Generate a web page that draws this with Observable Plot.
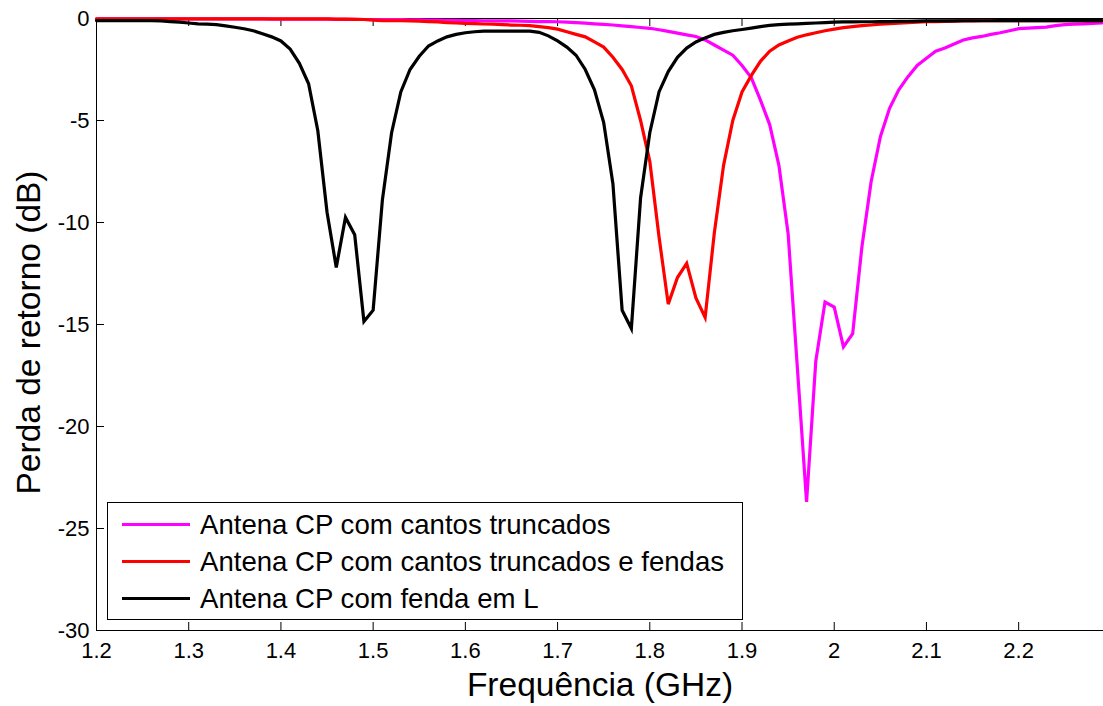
<!DOCTYPE html>
<html><head><meta charset="utf-8">
<script src="https://cdn.jsdelivr.net/npm/d3@7"></script>
<script src="https://cdn.jsdelivr.net/npm/@observablehq/plot@0.6"></script>
<style>
body{margin:0;background:#fff;}
#wrap{position:relative;width:1103px;height:706px;font-family:"Liberation Sans",Arial,sans-serif;overflow:hidden;}
#legend{position:absolute;left:107px;top:502px;width:634px;height:116px;border:1px solid #000;background:#fff;}
.row{position:absolute;left:14px;height:37px;display:flex;align-items:center;font-size:27.6px;color:#000;white-space:nowrap;}
.sw{width:68px;height:3px;margin-right:10px;}
</style></head>
<body><div id="wrap"><div id="legend"></div></div>
<script>
const freq = [
1.20,1.21,1.22,1.23,1.24,1.25,1.26,1.27,1.28,1.29,
1.30,1.31,1.32,1.33,1.34,1.35,1.36,1.37,1.38,1.39,
1.40,1.41,1.42,1.43,1.44,1.45,1.46,1.47,1.48,1.49,
1.50,1.51,1.52,1.53,1.54,1.55,1.56,1.57,1.58,1.59,
1.60,1.61,1.62,1.63,1.64,1.65,1.66,1.67,1.68,1.69,
1.70,1.71,1.72,1.73,1.74,1.75,1.76,1.77,1.78,1.79,
1.80,1.81,1.82,1.83,1.84,1.85,1.86,1.87,1.88,1.89,
1.90,1.91,1.92,1.93,1.94,1.95,1.96,1.97,1.98,1.99,
2.00,2.01,2.02,2.03,2.04,2.05,2.06,2.07,2.08,2.09,
2.10,2.11,2.12,2.13,2.14,2.15,2.16,2.17,2.18,2.19,
2.20,2.21,2.22,2.23,2.24,2.25,2.26,2.27,2.28,2.29];

const cantosTruncados = [
-0.02,-0.02,-0.02,-0.02,-0.02,-0.02,-0.02,-0.02,-0.02,-0.02,
-0.02,-0.02,-0.02,-0.02,-0.02,-0.02,-0.02,-0.02,-0.02,-0.03,
-0.03,-0.03,-0.03,-0.03,-0.03,-0.03,-0.04,-0.04,-0.04,-0.05,
-0.05,-0.05,-0.06,-0.06,-0.07,-0.07,-0.08,-0.08,-0.09,-0.09,
-0.10,-0.10,-0.11,-0.11,-0.12,-0.12,-0.13,-0.14,-0.15,-0.15,
-0.16,-0.18,-0.20,-0.23,-0.26,-0.29,-0.32,-0.36,-0.40,-0.44,
-0.48,-0.55,-0.63,-0.72,-0.80,-0.88,-1.05,-1.30,-1.55,-1.80,
-2.30,-2.90,-4.00,-5.20,-7.20,-10.55,-17.10,-23.70,-16.80,-13.90,
-14.15,-16.10,-15.45,-11.20,-8.00,-5.80,-4.40,-3.50,-2.85,-2.30,
-1.95,-1.60,-1.45,-1.25,-1.05,-0.95,-0.88,-0.78,-0.70,-0.60,
-0.50,-0.47,-0.45,-0.42,-0.35,-0.30,-0.28,-0.26,-0.24,-0.22];

const cantosTruncadosFendas = [
-0.02,-0.02,-0.02,-0.02,-0.02,-0.02,-0.02,-0.02,-0.02,-0.02,
-0.02,-0.02,-0.02,-0.02,-0.02,-0.02,-0.02,-0.02,-0.02,-0.02,
-0.02,-0.02,-0.02,-0.02,-0.02,-0.02,-0.03,-0.03,-0.04,-0.05,
-0.08,-0.10,-0.10,-0.10,-0.12,-0.13,-0.15,-0.17,-0.20,-0.22,
-0.24,-0.25,-0.27,-0.28,-0.30,-0.32,-0.33,-0.35,-0.40,-0.45,
-0.52,-0.65,-0.78,-0.90,-1.15,-1.40,-1.90,-2.50,-3.30,-5.00,
-7.00,-10.70,-14.00,-12.70,-12.00,-13.70,-14.65,-10.50,-7.20,-5.00,
-3.60,-2.80,-2.10,-1.60,-1.30,-1.10,-0.92,-0.80,-0.70,-0.60,
-0.52,-0.45,-0.40,-0.35,-0.32,-0.28,-0.25,-0.23,-0.20,-0.18,
-0.16,-0.15,-0.14,-0.13,-0.12,-0.12,-0.11,-0.11,-0.10,-0.10,
-0.10,-0.10,-0.10,-0.10,-0.10,-0.10,-0.10,-0.10,-0.10,-0.10];

const fendaEmL = [
-0.10,-0.10,-0.10,-0.10,-0.10,-0.10,-0.10,-0.12,-0.15,-0.18,
-0.22,-0.26,-0.28,-0.30,-0.36,-0.43,-0.50,-0.60,-0.75,-0.90,
-1.10,-1.50,-2.20,-3.20,-5.50,-9.50,-12.20,-9.75,-10.60,-14.85,
-14.30,-8.90,-5.60,-3.60,-2.50,-1.85,-1.35,-1.10,-0.90,-0.78,
-0.70,-0.65,-0.62,-0.62,-0.62,-0.62,-0.62,-0.62,-0.68,-0.85,
-1.10,-1.40,-1.80,-2.50,-3.50,-5.10,-8.10,-14.30,-15.20,-8.80,
-5.60,-3.60,-2.60,-1.90,-1.45,-1.15,-0.95,-0.78,-0.68,-0.60,
-0.54,-0.47,-0.40,-0.34,-0.30,-0.28,-0.26,-0.24,-0.22,-0.20,
-0.18,-0.17,-0.17,-0.16,-0.16,-0.15,-0.15,-0.14,-0.14,-0.13,
-0.12,-0.12,-0.12,-0.12,-0.11,-0.11,-0.11,-0.11,-0.10,-0.10,
-0.10,-0.10,-0.10,-0.10,-0.10,-0.10,-0.10,-0.10,-0.10,-0.10];

const seriesNames = ["Antena CP com cantos truncados", "Antena CP com cantos truncados e fendas", "Antena CP com fenda em L"];
const seriesColors = ["#ff00ff", "#ff0000", "#000000"];
const seriesValues = [cantosTruncados, cantosTruncadosFendas, fendaEmL];

const xTicks = [1.2, 1.3, 1.4, 1.5, 1.6, 1.7, 1.8, 1.9, 2.0, 2.1, 2.2];
const xTickLabels = ["1.2", "1.3", "1.4", "1.5", "1.6", "1.7", "1.8", "1.9", "2", "2.1", "2.2"];
const yTicks = [0, -5, -10, -15, -20, -25, -30];
const yTickLabels = ["0", "-5", "-10", "-15", "-20", "-25", "-30"];
const xDomain = [1.2, 2.292];
const yDomain = [-30, 0];
const xLabel = "Frequência (GHz)";
const yLabel = "Perda de retorno (dB)";

const W = 1103, H = 706, mL = 96, mR = 0, mT = 18, mB = 76;
const frameW = W - mL - mR, frameH = H - mT - mB, tickLen = 8;

const lineMarks = seriesValues.map((vals, k) =>
  Plot.line(freq.map((f, i) => ({f, v: vals[i]})), {x: "f", y: "v", stroke: seriesColors[k], strokeWidth: 3.2, strokeLinejoin: "miter", strokeMiterlimit: 4})
);

const chart = Plot.plot({
  width: W, height: H,
  marginLeft: mL, marginRight: mR, marginTop: mT, marginBottom: mB,
  style: {fontFamily: "'Liberation Sans', Arial, sans-serif", background: "#fff", color: "#000"},
  x: {domain: xDomain},
  y: {domain: yDomain},
  marks: [
    Plot.ruleY(yDomain, {stroke: "#000", strokeWidth: 1}),
    Plot.ruleX([xDomain[0]], {stroke: "#000", strokeWidth: 1}),
    Plot.tickX(xTicks, {x: d => d, insetTop: frameH - tickLen, stroke: "#000"}),
    Plot.tickX(xTicks, {x: d => d, insetBottom: frameH - tickLen, stroke: "#000"}),
    Plot.tickY(yTicks, {y: d => d, insetRight: frameW - tickLen, stroke: "#000"}),
    Plot.axisX(xTicks, {anchor: "bottom", tickSize: 0, tickPadding: 12, fontSize: 22, tickFormat: (d, i) => xTickLabels[i], label: null}),
    Plot.axisY(yTicks, {anchor: "left", tickSize: 0, tickPadding: 7, fontSize: 22, tickFormat: (d, i) => yTickLabels[i], label: null}),
    Plot.text([xLabel], {text: d => d, frameAnchor: "bottom", textAnchor: "middle", dy: 65, fontSize: 33.5}),
    Plot.text([yLabel], {text: d => d, frameAnchor: "left", textAnchor: "middle", rotate: -90, dx: -67, dy: 8, fontSize: 33.5}),
    ...lineMarks
  ]
});

const wrap = document.getElementById("wrap");
wrap.insertBefore(chart, wrap.firstChild);
chart.style.display = "block";

const legend = document.getElementById("legend");
seriesNames.forEach((name, k) => {
  const row = document.createElement("div");
  row.className = "row";
  row.style.top = (3 + k * 37) + "px";
  const sw = document.createElement("div");
  sw.className = "sw";
  sw.style.background = seriesColors[k];
  const t = document.createElement("span");
  t.textContent = name;
  row.appendChild(sw); row.appendChild(t);
  legend.appendChild(row);
});
</script>
</body></html>
